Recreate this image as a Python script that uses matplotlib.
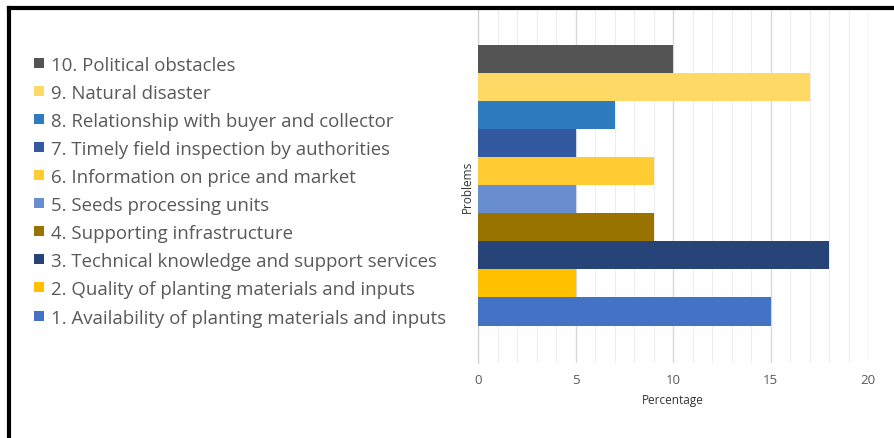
import matplotlib
matplotlib.use("Agg")
import matplotlib.pyplot as plt
from matplotlib.lines import Line2D
from matplotlib.patches import Rectangle
from matplotlib.ticker import MultipleLocator

plt.rcParams['font.family'] = ['Open Sans', 'DejaVu Sans']

problems = [
    "1. Availability of planting materials and inputs",
    "2. Quality of planting materials and inputs",
    "3. Technical knowledge and support services",
    "4. Supporting infrastructure",
    "5. Seeds processing units",
    "6. Information on price and market",
    "7. Timely field inspection by authorities",
    "8. Relationship with buyer and collector",
    "9. Natural disaster",
    "10. Political obstacles",
]
percentages = [15, 5, 18, 9, 5, 9, 5, 7, 17, 10]
colors = ["#4472C4", "#FFC000", "#264478", "#997300", "#698ED0",
          "#FFCC33", "#335AA0", "#2E7BC0", "#FFD966", "#545454"]

W, H = 894, 439
fig = plt.figure(figsize=(W / 100, H / 100), dpi=100)
ax = fig.add_axes([478 / W, 1 - 364 / H, (868 - 478) / W, (364 - 10) / H])

ypos = list(range(len(problems)))
ax.barh(ypos, percentages, height=1.0, color=colors, edgecolor="none", zorder=3)

ax.set_xlim(0, 20)
ax.set_ylim(-1.835, 10.78)
ax.xaxis.set_major_locator(MultipleLocator(5))
ax.xaxis.set_minor_locator(MultipleLocator(1))
ax.grid(axis="x", which="major", color="#d9d9d9", linewidth=1.0, zorder=0)
ax.grid(axis="x", which="minor", color="#ededed", linewidth=0.8, zorder=0)
ax.set_yticks([])
for s in ("top", "right", "bottom"):
    ax.spines[s].set_visible(False)
ax.spines["left"].set_color("#d0d0d0")
ax.tick_params(axis="x", which="both", length=0, pad=7, labelsize=9.5, labelcolor="#595959")
ax.set_xlabel("Percentage", fontsize=8.5, color="#333333", labelpad=5)
ax.set_ylabel("Problems", fontsize=8.5, color="#333333", labelpad=3)

# legend-style key on the left, one row per problem, aligned with the bars
trans = ax.transData
for i, (name, col) in enumerate(zip(problems, colors)):
    _, yd = trans.transform((0, i))
    yf = (yd - 4) / H
    fig.add_artist(Rectangle((34 / W, yf - 5 / H), 10 / W, 10 / H,
                             transform=fig.transFigure, facecolor=col,
                             edgecolor="none"))
    fig.text(51 / W, yf, name, fontsize=13.4, color="#595959",
             ha="left", va="center_baseline")

# outer frame (left and top edges)
fig.add_artist(Line2D([9 / W, 9 / W], [0, 1 - 9 / H], color="black",
                      linewidth=3, transform=fig.transFigure))
fig.add_artist(Line2D([9 / W, 1], [1 - 9 / H, 1 - 9 / H], color="black",
                      linewidth=3, transform=fig.transFigure))

fig.savefig("out.png", dpi=100)
